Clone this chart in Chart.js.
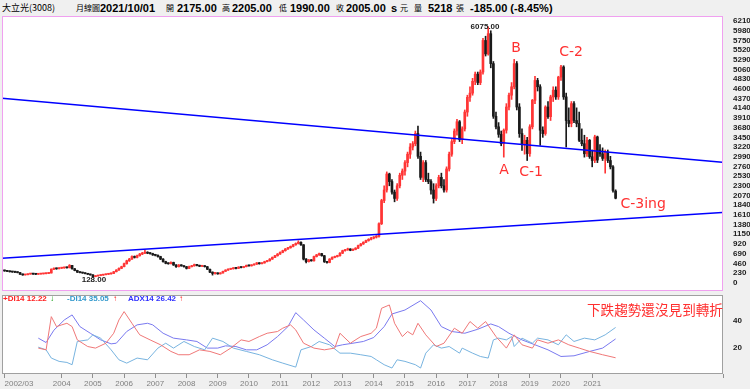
<!DOCTYPE html>
<html>
<head>
<meta charset="utf-8">
<script src="https://cdn.jsdelivr.net/npm/chart.js@4.4.0/dist/chart.umd.min.js"></script>
<style>
  body { margin: 0; width: 750px; height: 389px; overflow: hidden; position: relative; background: #f0f0f0; }
  canvas { position: absolute; left: 0; }
  #main { top: 0; }
  #sub { top: 292px; }
  .t { position: absolute; top: 2px; line-height: 12px; white-space: nowrap; color: #000;
       font-family: "Noto Sans CJK TC", sans-serif; font-size: 8px; }
  .b { font-family: "Liberation Sans", sans-serif; font-weight: bold; font-size: 11px; }
  .lg { position: absolute; top: 293px; line-height: 11px; white-space: nowrap;
        font-family: "Liberation Sans", sans-serif; font-weight: bold; font-size: 8px; }
  .note { position: absolute; left: 587px; top: 301px; color: #ff3030; white-space: nowrap;
          font-family: "Noto Sans CJK TC", sans-serif; font-size: 13.6px; line-height: 16px; }
</style>
</head>
<body>
<span class="t" style="left:2px;font-size:9px">大立光(3008)</span>
<span class="t" style="left:76px">月線圖</span>
<span class="t b" style="left:100px">2021/10/01</span>
<span class="t" style="left:166px">開</span>
<span class="t b" style="left:177px">2175.00</span>
<span class="t" style="left:222px">高</span>
<span class="t b" style="left:232px">2205.00</span>
<span class="t" style="left:279px">低</span>
<span class="t b" style="left:290px">1990.00</span>
<span class="t" style="left:336px">收</span>
<span class="t b" style="left:346px">2005.00</span>
<span class="t b" style="left:391px">s</span>
<span class="t" style="left:400px">元</span>
<span class="t" style="left:414px">量</span>
<span class="t b" style="left:428px">5218</span>
<span class="t" style="left:456px">張</span>
<span class="t b" style="left:470px">-185.00 (-8.45%)</span>

<canvas id="main" width="750" height="292"></canvas>
<canvas id="sub" width="750" height="97"></canvas>

<span class="lg" style="left:3px;color:#ff2020">+DI14 12.22</span>
<span class="lg" style="left:50px;color:#009900">↓</span>
<span class="lg" style="left:67px;color:#3399cc">-DI14 35.05</span>
<span class="lg" style="left:113px;color:#ff2020">↑</span>
<span class="lg" style="left:128px;color:#3030ff">ADX14 26.42</span>
<span class="lg" style="left:179px;color:#ff2020">↑</span>
<div class="note">下跌趨勢還沒見到轉折</div>

<script>
// 月線 2002/03 ~ 2021/10, one row per year
const opens = [
  290,280,270,260,255,250,240,200,185,190,
  205,210,205,200,205,210,215,220,230,320,340,330,
  345,350,360,355,410,330,290,250,240,230,215,200,
  185,145,160,170,180,190,200,210,220,260,300,340,
  380,450,520,560,620,600,640,680,700,720,700,690,
  660,650,620,560,500,460,450,480,420,380,420,400,
  380,340,380,400,430,410,390,400,380,320,250,220,
  230,210,230,270,300,320,330,350,340,370,360,380,
  410,400,420,440,470,450,470,500,520,560,600,640,
  680,720,760,800,830,860,900,930,960,900,560,500,
  540,520,620,660,690,640,500,480,560,600,620,640,
  700,760,780,800,770,790,820,880,920,960,1000,1030,
  1060,1080,1100,1400,1950,2200,2580,2400,2150,2000,2300,2550,
  2650,2850,3050,3220,3300,3540,3000,2500,2850,2450,2400,2200,
  2000,2300,2500,2300,2200,2700,3050,3350,3600,3820,3400,3650,
  4050,4400,4500,4780,4950,4750,5000,5750,5430,5910,5200,3950,
  3700,3520,3300,3620,4170,4450,4650,5200,4170,3540,3300,3380,
  3065,3700,4330,4800,4650,3620,3540,4170,3940,4410,4570,4410,
  4880,5120,4410,3850,3780,4250,3850,3780,3380,3300,3060,3380,
  2990,2900,3460,3150,3060,2950,3100,2900,2750,2175
];
const highs = [
  300,290,280,268,262,258,245,208,198,212,
  218,215,210,212,216,222,226,238,330,355,348,356,
  362,372,368,430,415,338,296,258,248,236,222,205,
  190,166,176,186,196,206,216,228,268,310,350,392,
  465,535,578,640,635,655,695,720,780,735,712,700,
  675,660,628,570,510,472,495,488,428,432,428,408,
  386,392,412,442,438,418,412,408,386,326,258,238,
  236,238,278,308,330,342,360,356,380,378,390,420,
  416,428,450,480,476,480,510,530,572,612,652,692,
  732,772,812,842,872,912,945,995,968,905,570,552,
  548,632,672,702,698,648,510,572,612,632,652,712,
  772,792,820,808,802,832,892,932,972,1012,1045,1075,
  1095,1120,1420,1980,2300,2630,2600,2450,2200,2350,2600,2700,
  2900,3100,3300,3350,3600,3720,3100,2900,2900,2600,2450,2350,
  2350,2550,2600,2450,2750,3100,3400,3650,3880,3850,3700,4100,
  4450,4650,4850,5000,5000,5050,5800,5850,6075,5980,5250,4050,
  3800,3600,3650,4250,4500,4750,5300,5250,4250,3650,3500,3450,
  3750,4350,4900,4850,4700,3700,4200,4300,4450,4650,4650,4900,
  5160,5150,4500,4150,4300,4300,4150,4050,3650,3500,3450,3400,
  3150,3500,3480,3280,3200,3150,3150,3000,2780,2205
];
const lows = [
  270,262,252,245,240,232,195,175,180,186,
  200,198,192,196,200,205,210,215,228,310,318,325,
  335,342,345,350,320,282,242,232,222,208,194,178,
  128,140,155,164,174,184,194,204,216,255,292,332,
  372,440,505,550,585,590,630,665,690,688,675,648,
  635,605,548,488,448,438,444,410,365,372,390,370,
  325,335,372,392,400,380,382,370,310,240,180,205,
  200,205,225,265,292,312,322,330,334,350,354,374,
  390,394,414,432,440,444,462,492,512,552,592,630,
  670,710,748,788,818,848,888,918,885,540,470,490,
  510,512,610,650,630,480,465,472,552,590,608,632,
  690,748,768,758,760,780,810,868,908,948,985,1015,
  1040,1060,1080,1380,1900,2150,2300,2100,1920,1950,2250,2450,
  2550,2750,2950,3150,3250,2950,2450,2400,2400,2350,2100,1890,
  1950,2250,2250,2150,2150,2650,3000,3300,3500,3350,3300,3600,
  3950,4300,4450,4700,4700,4700,4950,5380,5400,5100,3900,3650,
  3450,3250,2980,3550,4100,4350,4600,4100,3450,3140,3050,2900,
  3000,3650,4250,4550,3260,3450,3500,3900,3850,4300,4350,4350,
  4800,4350,3220,3700,3700,3800,3700,3350,3250,2980,3000,2950,
  2750,2850,2850,3000,2900,2600,2850,2700,2150,1990
];
const closes = [
  280,270,260,255,250,240,200,185,190,205,
  210,205,200,205,210,215,220,230,320,340,330,345,
  350,360,355,410,330,290,250,240,230,215,200,185,
  145,160,170,180,190,200,210,220,260,300,340,380,
  450,520,560,620,600,640,680,700,720,700,690,660,
  650,620,560,500,460,450,480,420,380,420,400,380,
  340,380,400,430,410,390,400,380,320,250,220,230,
  210,230,270,300,320,330,350,340,370,360,380,410,
  400,420,440,470,450,470,500,520,560,600,640,680,
  720,760,800,830,860,900,930,960,900,560,500,540,
  520,620,660,690,640,500,480,560,600,620,640,700,
  760,780,800,770,790,820,880,920,960,1000,1030,1060,
  1080,1100,1400,1950,2200,2580,2400,2150,2000,2300,2550,2650,
  2850,3050,3220,3300,3540,3000,2500,2850,2450,2400,2200,2000,
  2300,2500,2300,2200,2700,3050,3350,3600,3820,3400,3650,4050,
  4400,4500,4780,4950,4750,5000,5750,5430,5910,5200,3950,3700,
  3520,3300,3620,4170,4450,4650,5200,4170,3540,3300,3380,3065,
  3700,4330,4800,4650,3620,3540,4170,3940,4410,4570,4410,4880,
  5120,4410,3850,3780,4250,3850,3780,3380,3300,3060,3380,2990,
  2900,3460,2910,3060,2950,3100,2900,2750,2190,2005
];

const priceTicks = [0,230,460,690,920,1150,1380,1610,1840,2070,2300,2530,2760,2990,
  3220,3450,3680,3910,4140,4370,4600,4830,5060,5290,5520,5750,5980,6210];

// month index (0 = 2002/03) and label on the time axis
const xTickMonths = [0,22,34,46,58,70,82,94,106,118,130,142,154,166,178,190,202,214,226];
const xTickLabels = ['2002/03','2004','2005','2006','2007','2008','2009','2010','2011',
  '2012','2013','2014','2015','2016','2017','2018','2019','2020','2021'];

// trend lines: [month, price] at both ends
const upperTrend = [[-1, 4380], [276, 2860]];
const lowerTrend = [[-1, 580], [276, 1665]];

// DMI 14, [month, value]
const plusDI = [[13,19.5],[16,18.2],[18,43.2],[20,35.7],[22,37],[24,38.2],[26,35.7],[28,25.7],[32,20.7],
  [35,19.5],[39,23.2],[42,30.7],[44,40.7],[46,47],[49,38.2],[52,29.5],[56,25.7],[60,22],[64,17],[67,14.5],
  [71,14.5],[75,18.2],[79,17],[83,14.5],[87,19.5],[91,25.7],[94,24.5],[98,28.2],[101,30.7],[105,32],
  [107,34.5],[110,37],[112,33.2],[115,23.2],[119,19.5],[123,18.2],[127,19.5],[129,30.7],[133,23.2],
  [137,28.2],[141,30.7],[143,34.5],[145,49.5],[148,52],[150,38.2],[153,28.2],[155,32],[157,29.5],
  [159,38.2],[162,29.5],[166,20.7],[169,23.2],[173,34.5],[176,30.7],[179,39.5],[182,34.5],[185,39.5],
  [189,28.2],[193,19.5],[196,29.5],[199,22],[203,19.5],[205,25.7],[209,23.2],[213,25.7],[217,22],
  [221,19.5],[225,17],[230,14.5],[235,12.22]];
const minusDI = [[13,20.2],[16,18.2],[18,12],[21,9.5],[24,8.7],[26,7],[28,24.5],[32,25.7],[34,29.5],
  [37,27],[41,18.2],[44,10.7],[47,8.2],[51,12],[55,10.7],[59,19.5],[62,23.2],[65,19.5],[69,24.5],
  [73,20.7],[77,18.2],[80,27],[84,24.5],[88,19.5],[93,17],[98,14.5],[103,10.7],[107,8.2],[112,5.2],
  [114,18.2],[118,20.7],[121,24.5],[125,22],[129,15.7],[133,15.7],[137,14.5],[141,13.2],[143,10.7],
  [146,7],[149,4.5],[151,10.7],[154,9.5],[158,7],[160,4.5],[162,15.7],[165,22],[168,19.5],[171,20.7],
  [175,15.7],[176,19.5],[180,15.7],[183,13.2],[186,12],[188,25.7],[190,27],[193,25.7],[195,28.2],
  [196,20.7],[199,27],[203,23.2],[205,27],[209,25.7],[213,22],[216,29.5],[219,24.5],[223,27],
  [227,25.7],[231,29.5],[235,35.05]];
const adx = [[13,27],[16,23.7],[19,33],[23,40.7],[26,44.5],[29,35.7],[33,30.7],[37,25.7],[41,22.7],
  [43,23.2],[47,32],[51,37],[55,38.2],[57,37],[61,30.7],[65,27],[70,25.7],[74,24.5],[78,19.5],[82,19.5],
  [85,21.2],[89,20.7],[93,18.2],[97,18.2],[101,22],[105,28.2],[109,35.7],[112,46.2],[115,40.7],
  [119,33.2],[123,27],[127,20.7],[130,22],[134,23.2],[138,24.5],[142,27.5],[146,35.7],[149,45.2],
  [154,48.2],[160,55.2],[164,48.2],[168,35.7],[172,32],[177,30.7],[182,33.7],[187,37.7],[190,35.7],
  [194,30.7],[199,25.7],[204,22],[209,18.2],[214,13.2],[219,13.7],[225,17],[230,19.5],[235,26.42]];

const UP = '#ff3535';
const DOWN = '#1a1a1a';
const X_MIN = -0.96, X_MAX = 276.3;
const tickFont = { family: 'Liberation Sans', size: 8, weight: 'bold' };

const candleColors = closes.map((c, i) => c >= opens[i] ? UP : DOWN);
const toPts = arr => arr.map(([x, y]) => ({ x, y }));

// fixed axis size, no extra room for end labels
const fitY = s => { s.width = 27; s.paddingTop = 0; s.paddingBottom = 0; };
const fitX = s => { s.height = 15; s.paddingLeft = 0; s.paddingRight = 0; };

// white plot area + thin frame
const frame = {
  id: 'frame',
  beforeDraw(chart, args, opts) {
    const { ctx, chartArea: a } = chart;
    ctx.save();
    ctx.fillStyle = '#ffffff';
    ctx.fillRect(a.left, a.top, a.right - a.left, a.bottom - a.top);
    ctx.restore();
  },
  afterDraw(chart, args, opts) {
    const { ctx, chartArea: a } = chart;
    ctx.save();
    ctx.strokeStyle = opts.color;
    ctx.lineWidth = 1;
    ctx.strokeRect(a.left + 0.5, a.top + 0.5, a.right - a.left - 1, a.bottom - a.top - 1);
    ctx.restore();
  }
};

// text marks on the price chart, placed in data units
const notes = [
  { text: '6075.00', x: 184.8, y: 6084, font: 'bold 8px "Liberation Sans"', color: '#222' },
  { text: '128.00', x: 34.4, y: 64, font: 'bold 8px "Liberation Sans"', color: '#222' },
  { text: 'A', x: 192.1, y: 2671, font: '14px "DejaVu Sans"', color: '#ff3030' },
  { text: 'B', x: 196.7, y: 5562, font: '14px "DejaVu Sans"', color: '#ff3030' },
  { text: 'C-1', x: 202.5, y: 2624, font: '14px "DejaVu Sans"', color: '#ff3030' },
  { text: 'C-2', x: 217.9, y: 5468, font: '14px "DejaVu Sans"', color: '#ff3030' },
  { text: 'C-3ing', x: 245.6, y: 1865, font: '14px "DejaVu Sans"', color: '#ff3030' }
];
const noteLabels = {
  id: 'noteLabels',
  afterDatasetsDraw(chart) {
    const { ctx, scales } = chart;
    ctx.save();
    ctx.textAlign = 'center';
    ctx.textBaseline = 'middle';
    notes.forEach(n => {
      ctx.font = n.font;
      ctx.fillStyle = n.color;
      ctx.fillText(n.text, scales.x.getPixelForValue(n.x), scales.y.getPixelForValue(n.y));
    });
    ctx.restore();
  }
};

new Chart(document.getElementById('main'), {
  type: 'bar',
  data: {
    datasets: [
      { type: 'line', data: toPts(upperTrend), borderColor: '#0000ff', borderWidth: 1.5, pointRadius: 0, order: 0 },
      { type: 'line', data: toPts(lowerTrend), borderColor: '#0000ff', borderWidth: 1.5, pointRadius: 0, order: 0 },
      {
        data: closes.map((c, i) => ({ x: i, y: [lows[i], highs[i]] })),
        backgroundColor: candleColors, barThickness: 1, grouped: false, order: 2
      },
      {
        data: closes.map((c, i) => ({ x: i, y: [opens[i], c] })),
        backgroundColor: candleColors, barThickness: 2, minBarLength: 1, grouped: false, order: 1
      }
    ]
  },
  options: {
    responsive: false,
    animation: false,
    devicePixelRatio: 1,
    layout: { padding: { left: 2, top: 16, right: 0, bottom: 1 } },
    plugins: { legend: { display: false }, tooltip: { enabled: false }, frame: { color: '#f0a0f0' } },
    scales: {
      x: { type: 'linear', min: X_MIN, max: X_MAX, offset: false, display: false },
      y: {
        position: 'right', min: -197, max: 6330,
        afterBuildTicks: s => { s.ticks = priceTicks.map(v => ({ value: v })); },
        afterFit: fitY,
        grid: { display: false }, border: { display: false },
        ticks: { padding: 2, autoSkip: false, font: tickFont, color: '#202020', callback: v => String(v) }
      }
    }
  },
  plugins: [frame, noteLabels]
});

new Chart(document.getElementById('sub'), {
  type: 'line',
  data: {
    datasets: [
      { data: toPts(plusDI), borderColor: '#f07878', borderWidth: 1, pointRadius: 0 },
      { data: toPts(minusDI), borderColor: '#78b4e0', borderWidth: 1, pointRadius: 0 },
      { data: toPts(adx), borderColor: '#7a7af0', borderWidth: 1, pointRadius: 0 }
    ]
  },
  options: {
    responsive: false,
    animation: false,
    devicePixelRatio: 1,
    layout: { padding: { left: 2, top: 3, right: 0, bottom: 0 } },
    plugins: { legend: { display: false }, tooltip: { enabled: false }, frame: { color: '#a0a0a0' } },
    scales: {
      x: {
        type: 'linear', min: X_MIN, max: X_MAX, offset: false,
        afterBuildTicks: s => { s.ticks = xTickMonths.map(v => ({ value: v })).concat([{ value: X_MAX }]); },
        afterFit: fitX,
        grid: { drawOnChartArea: false, tickLength: 4, color: '#909090' },
        border: { display: false },
        ticks: {
          align: 'inner', padding: 1, maxRotation: 0, autoSkip: false,
          font: { family: 'Liberation Sans', size: 8 }, color: '#808080',
          callback: v => { const k = xTickMonths.indexOf(v); return k < 0 ? '' : xTickLabels[k]; }
        }
      },
      y: {
        position: 'right', min: 0, max: 59.5,
        afterBuildTicks: s => { s.ticks = [{ value: 20 }, { value: 40 }]; },
        afterFit: fitY,
        grid: { display: false }, border: { display: false },
        ticks: { padding: 2, font: tickFont, color: '#202020' }
      }
    }
  },
  plugins: [frame]
});
</script>
</body>
</html>
